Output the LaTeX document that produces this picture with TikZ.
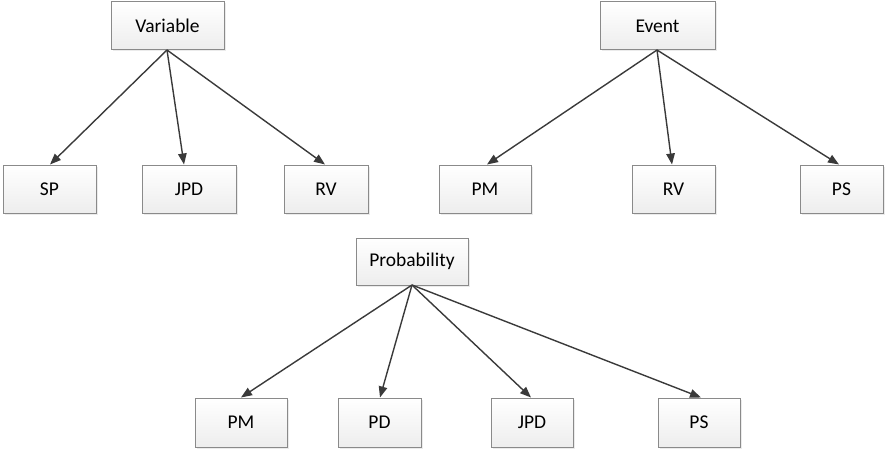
\documentclass[tikz,border=0pt]{standalone}
\usepackage{fontspec}
\setmainfont{Carlito}
\usetikzlibrary{arrows.meta,shadows}
\definecolor{boxline}{HTML}{8A8A8A}
\definecolor{arrowc}{HTML}{3A3A3A}
\begin{document}
\begin{tikzpicture}[x=1pt,y=-1pt,
  box/.style={draw=boxline, line width=1pt, top color=white, bottom color=black!7,
    drop shadow={shadow xshift=1.5pt, shadow yshift=-1.5pt, opacity=0.2, fill=black!40},
    font=\fontsize{19.5}{22}\selectfont, text=black},
  conn/.style={draw=arrowc, line width=1.4pt, -{Triangle[length=11pt,width=8.5pt]}}]
\useasboundingbox (0,0) rectangle (888,452);
\newcommand{\mybox}[6]{\node[box, minimum width=#4-#2, minimum height=#5-#3, inner sep=0pt, anchor=center] (#1) at ({(#2+#4)/2},{(#3+#5)/2}) {#6};}
\mybox{var}{111}{2}{224}{50}{Variable}
\mybox{evt}{600}{2}{715}{50}{Event}
\mybox{sp}{3}{165}{96}{213}{SP}
\mybox{jpda}{142}{165}{236}{213}{JPD}
\mybox{rva}{284}{165}{368}{213}{RV}
\mybox{pma}{439}{165}{531}{213}{PM}
\mybox{rvb}{632}{165}{715}{213}{RV}
\mybox{psa}{800}{165}{883}{213}{PS}
\mybox{prob}{356}{238}{468}{285}{Probability}
\mybox{pmb}{195}{398}{287}{447}{PM}
\mybox{pd}{338}{398}{421}{447}{PD}
\mybox{jpdb}{491}{398}{573}{447}{JPD}
\mybox{psb}{658}{398}{740}{447}{PS}
\coordinate (vo) at (167,50);
\coordinate (eo) at (657,50);
\coordinate (po) at (412,285);
\draw[conn] (vo) -- (sp.north -| 50,0);
\draw[conn] (vo) -- (jpda.north -| 184,0);
\draw[conn] (vo) -- (rva.north -| 325,0);
\draw[conn] (eo) -- (pma.north -| 487,0);
\draw[conn] (eo) -- (rvb.north -| 672,0);
\draw[conn] (eo) -- (psa.north -| 839,0);
\draw[conn] (po) -- (pmb.north -| 241,0);
\draw[conn] (po) -- (pd.north -| 380,0);
\draw[conn] (po) -- (jpdb.north -| 531,0);
\draw[conn] (po) -- (psb.north -| 701,0);
\end{tikzpicture}
\end{document}
